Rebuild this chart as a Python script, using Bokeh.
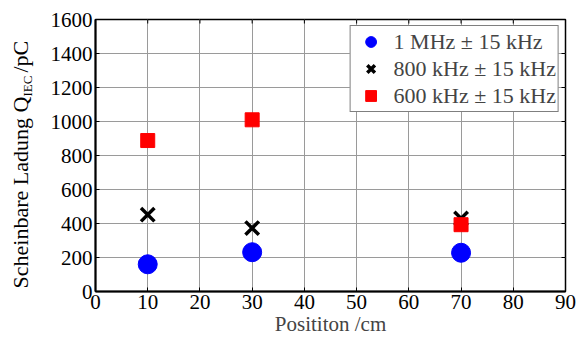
from bokeh.plotting import figure
from bokeh.layouts import row
from bokeh.models import Legend, LegendItem, SingleIntervalTicker, Range1d
from bokeh.core.properties import value
from bokeh.embed import file_html
from bokeh.resources import INLINE

# Data
positions = [10, 30, 70]
q_1mhz = [160, 231, 228]
q_800khz = [452, 373, 430]
q_600khz = [888, 1010, 393]
series_labels = ["1 MHz \u00b1 15 kHz", "800 kHz \u00b1 15 kHz", "600 kHz \u00b1 15 kHz"]
x_ticks = [0, 10, 20, 30, 40, 50, 60, 70, 80, 90]
y_ticks = [0, 200, 400, 600, 800, 1000, 1200, 1400, 1600]
x_label = "Posititon /cm"
y_label_main = "Scheinbare Ladung Q"
y_label_sub = "IEC"
y_label_tail = " /pC"

FONT = "Liberation Serif"
H = 338
LW = 42
BT, BB = 19, 47   # top / bottom borders shared by both panels

# ---- narrow left panel holding the rotated y-axis title (with subscript)
# its data coordinates equal canvas pixels measured from the bottom
lab = figure(width=LW, height=H, output_backend="svg", toolbar_location=None,
             x_range=Range1d(0, LW), y_range=Range1d(BB, H - BT),
             x_axis_location=None, y_axis_location=None,
             min_border_left=0, min_border_right=0, min_border_top=BT, min_border_bottom=BB)
lab.grid.visible = False
lab.outline_line_color = None
lab.text(x=[20], y=[H - 288], text=[y_label_main], angle=1.5707963,
         text_font=value(FONT), text_font_size=value("22px"), text_color="black",
         text_baseline="alphabetic", text_align="left")
lab.text(x=[27], y=[H - 96], text=[y_label_sub], angle=1.5707963,
         text_font=value(FONT), text_font_size=value("13px"), text_color="black",
         text_baseline="alphabetic", text_align="left")
lab.text(x=[20], y=[H - 72], text=[y_label_tail], angle=1.5707963,
         text_font=value(FONT), text_font_size=value("22px"), text_color="black",
         text_baseline="alphabetic", text_align="left")

# ---- main plot
p = figure(width=583 - LW, height=H, output_backend="svg", toolbar_location=None,
           x_range=Range1d(0, 90), y_range=Range1d(0, 1600),
           min_border_left=95 - LW, min_border_right=18, min_border_top=BT, min_border_bottom=BB)
p.outline_line_color = "black"
p.outline_line_width = 1.5

p.xaxis.ticker = SingleIntervalTicker(interval=10)
p.yaxis.ticker = SingleIntervalTicker(interval=200)
for axs in [p.xaxis, p.yaxis]:
    axs.major_label_text_font = FONT
    axs.major_label_text_font_size = "21px"
    axs.major_label_text_color = "black"
    axs.major_tick_in = 4
    axs.major_tick_out = 0
    axs.minor_tick_in = 0
    axs.minor_tick_out = 0
    axs.axis_line_width = 2
    axs.axis_line_color = "black"
    axs.major_label_standoff = 3

p.xaxis.axis_label = x_label
p.xaxis.axis_label_text_font = FONT
p.xaxis.axis_label_text_font_size = "21px"
p.xaxis.axis_label_text_font_style = "normal"
p.xaxis.axis_label_standoff = 0

p.xgrid.ticker = SingleIntervalTicker(interval=10)
p.ygrid.ticker = SingleIntervalTicker(interval=200)
p.grid.grid_line_color = "#9a9a9a"
p.grid.grid_line_width = 1

# inner ticks along top and right edges of the box
ylen = 1600 * 4 / 272
xlen = 90 * 4 / 470
p.segment(x0=x_ticks, y0=[1600] * len(x_ticks), x1=x_ticks, y1=[1600 - ylen] * len(x_ticks),
          line_color="black", line_width=1)
p.segment(x0=[90] * len(y_ticks), y0=y_ticks, x1=[90 - xlen] * len(y_ticks), y1=y_ticks,
          line_color="black", line_width=1)

r1 = p.scatter(positions, q_1mhz, marker="circle", size=19, fill_color="#0000ff", line_color="#0000ff")
r2 = p.scatter(positions, q_800khz, marker="x", size=19, line_color="black", line_width=3.5)
r3 = p.scatter(positions, q_600khz, marker="square", size=14, fill_color="#ff0000", line_color="#ff0000")

legend = Legend(items=[LegendItem(label=series_labels[0], renderers=[r1]),
                       LegendItem(label=series_labels[1], renderers=[r2]),
                       LegendItem(label=series_labels[2], renderers=[r3])],
                location="top_right")
legend.label_text_font = FONT
legend.label_text_font_size = "22px"
legend.border_line_color = "black"
legend.border_line_width = 1.5
legend.margin = 6
legend.padding = 2
legend.spacing = 0
legend.glyph_width = 36
legend.glyph_height = 27
legend.label_height = 27
legend.label_standoff = 5
legend.background_fill_alpha = 1
p.add_layout(legend)

layout = row(lab, p, spacing=0)
open("out.html", "w").write(file_html(layout, INLINE))
